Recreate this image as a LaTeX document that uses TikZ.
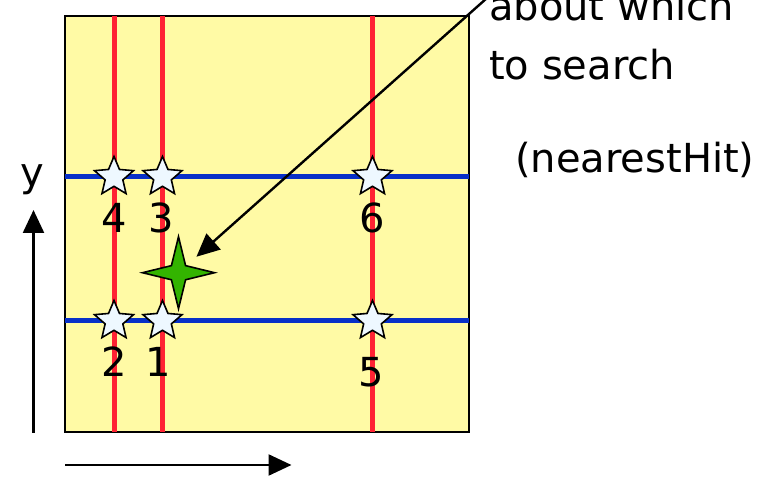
\documentclass[tikz,border=0pt]{standalone}
\usepackage{fontspec}
\setmainfont{DejaVu Sans}
\usepackage{xcolor}
\usetikzlibrary{shapes.geometric, arrows.meta, positioning}

\definecolor{cellyellow}{RGB}{255,250,165}
\definecolor{cellred}{RGB}{255,34,51}
\definecolor{cellblue}{RGB}{8,48,200}
\definecolor{hitwhite}{RGB}{238,248,255}
\definecolor{querygreen}{RGB}{51,180,0}

\begin{document}
\begin{tikzpicture}[
    x=1pt, y=-1pt,
    big/.style={font=\fontsize{40}{59}\selectfont, inner sep=0pt},
    hit/.style={draw, star, star points=5, star point ratio=2.2, minimum size=41pt, inner sep=0pt, fill=hitwhite, line width=1.6pt},
    query/.style={draw, star, star points=4, star point ratio=3.6, minimum size=72pt, inner sep=0pt, fill=querygreen, line width=1.6pt},
    redline/.style={cellred, line width=5pt},
    blueline/.style={cellblue, line width=5pt},
    pointer/.style={line width=2.4pt, -{Triangle[length=23pt,width=21pt]}}
]
\clip (0,0) rectangle (777,478);

% Cell
\draw[fill=cellyellow, line width=2pt] (65,16) rectangle (469,432);
\draw[redline] (114,16) -- (114,432);
\draw[redline] (162.5,16) -- (162.5,432);
\draw[redline] (372.5,16) -- (372.5,432);
\draw[blueline] (65,177) -- (469,177);
\draw[blueline] (65,321) -- (469,321);

% Nodes
\node (hit4) [hit] at (114,177) {};
\node (hit3) [hit] at (162.5,177) {};
\node (hit6) [hit] at (372.5,177) {};
\node (hit2) [hit] at (114,321) {};
\node (hit1) [hit] at (162.5,321) {};
\node (hit5) [hit] at (372.5,321) {};
\node (num4) [big] at (114,218) {4};
\node (num3) [big] at (161,218) {3};
\node (num6) [big] at (372,218) {6};
\node (num2) [big] at (114,362) {2};
\node (num1) [big] at (158,362) {1};
\node (num5) [big] at (371,372) {5};
\node (target) [query] at (178.5,272.7) {};
\node (callout) [big, anchor=base west] at (489,21) {about which};
\node (callout2) [big, anchor=base west] at (489,80) {to search};
\node (method) [big, anchor=base west] at (515,173) {(nearestHit)};
\node (ylabel) [big, anchor=base] at (32,187) {y};
\coordinate (calloutstart) at (487,-2);
\coordinate (yfoot) at (33.5,433);
\coordinate (yhead) at (33.5,210);
\coordinate (xfoot) at (65,465);
\coordinate (xhead) at (291.5,465);

% Arrows
\draw[pointer, shorten >=24pt] (calloutstart) -- (target.center);
\draw[pointer] (yfoot) -- (yhead);
\draw[pointer] (xfoot) -- (xhead);

\end{tikzpicture}
\end{document}
